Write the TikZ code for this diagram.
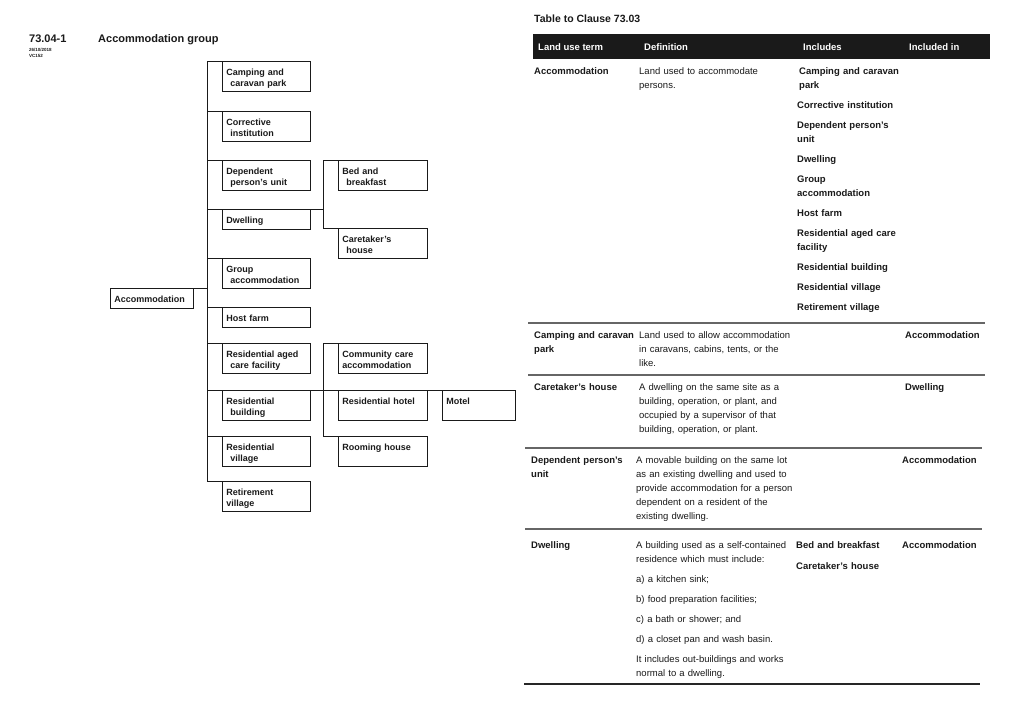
\documentclass[tikz,border=0pt]{standalone}
\usepackage{fontspec}
\setmainfont{Liberation Sans}
\usetikzlibrary{shadows}
\definecolor{ink}{HTML}{1A1A1A}
\tikzset{
  box/.style={draw=ink, line width=0.9pt, fill=white, anchor=north west,
    inner xsep=4pt, inner ysep=0pt, align=left, text=ink,
    font=\fontsize{9}{11}\selectfont\bfseries,
    text height=14pt, text depth=16pt,
    drop shadow={shadow xshift=0.9pt, shadow yshift=-0.9pt, fill=black!50, opacity=0.6}},
  lbox/.style={box, text width=80pt},
  rbox/.style={box, text width=81pt},
  short/.style={text depth=6pt},
  conn/.style={draw=ink, line width=1pt},
  cell/.style={anchor=base west, inner sep=0pt, text width=200pt, align=left, text=ink,
    font=\fontsize{9.5}{14}\selectfont},
  bcell/.style={cell, font=\fontsize{9.5}{14}\selectfont\bfseries},
  hcell/.style={anchor=base west, inner sep=0pt, text=white, font=\fontsize{9.5}{12}\selectfont\bfseries},
  rule/.style={draw=black!60, line width=1.4pt},
}
\begin{document}
\begin{tikzpicture}[x=1pt,y=-1pt]
\useasboundingbox[fill=white] (0,0) rectangle (1024,702);

% ---------- left heading ----------
\node[anchor=base west, inner sep=0pt, text=ink, font=\fontsize{11}{13}\selectfont\bfseries] (num) at (29,42) {73.04-1};
\node[anchor=base west, inner sep=0pt, text=ink, font=\fontsize{11}{13}\selectfont\bfseries] (grp) at (98,42) {Accommodation group};
\node[anchor=base west, inner sep=0pt, text=ink, font=\fontsize{4.5}{6}\selectfont\bfseries] (date) at (29,51) {26/10/2018};
\node[anchor=base west, inner sep=0pt, text=ink, font=\fontsize{4.5}{6}\selectfont\bfseries] (vc) at (29,57) {VC152};

% ---------- tree ----------
\coordinate (t1) at (207,0);
\coordinate (t2) at (323,0);

\node[box, text width=75pt, short] (acc) at (110,288) {Accommodation};

\node[lbox] (camp) at (222,61) {Camping and\\\hspace*{4pt}caravan park};
\node[lbox] (corr) at (222,111) {Corrective\\\hspace*{4pt}institution};
\node[lbox] (dep) at (222,160) {Dependent\\\hspace*{4pt}person's unit};
\node[lbox, short] (dwel) at (222,209) {Dwelling};
\node[lbox] (grpa) at (222,258) {Group\\\hspace*{4pt}accommodation};
\node[lbox, short] (host) at (222,307) {Host farm};
\node[lbox] (aged) at (222,343) {Residential aged\\\hspace*{4pt}care facility};
\node[lbox] (rbld) at (222,390) {Residential\\\hspace*{4pt}building};
\node[lbox] (rvil) at (222,436) {Residential\\\hspace*{4pt}village};
\node[lbox] (ret) at (222,481) {Retirement\\village};

\node[rbox] (bnb) at (338,160) {Bed and\\\hspace*{4pt}breakfast};
\node[rbox] (care) at (338,228) {Caretaker's\\\hspace*{4pt}house};
\node[rbox] (comm) at (338,343) {Community care\\accommodation};
\node[rbox] (rhot) at (338,390) {Residential hotel};
\node[rbox] (room) at (338,436) {Rooming house};
\node[box, text width=65pt] (motel) at (442,390) {Motel};

% connectors
\draw[conn] (acc.north east) -- (acc.north east -| t1);
\draw[conn] (camp.north west -| t1) -- (ret.north west -| t1);
\foreach \b in {camp,corr,dep,dwel,grpa,host,aged,rbld,rvil,ret}
  \draw[conn] (\b.north west -| t1) -- (\b.north west);
\draw[conn] (dwel.north east) -- (dwel.north east -| t2);
\draw[conn] (bnb.north west -| t2) -- (care.north west -| t2);
\draw[conn] (bnb.north west -| t2) -- (bnb.north west);
\draw[conn] (care.north west -| t2) -- (care.north west);
\draw[conn] (rbld.north east) -- (rbld.north east -| t2);
\draw[conn] (comm.north west -| t2) -- (room.north west -| t2);
\foreach \b in {comm,rhot,room}
  \draw[conn] (\b.north west -| t2) -- (\b.north west);
\draw[conn] (rhot.north east) -- (motel.north west);

% ---------- table ----------
\node[anchor=base west, inner sep=0pt, text=ink, font=\fontsize{10.5}{12}\selectfont\bfseries] (ttl) at (534,22) {Table to Clause 73.03};

\node[fill=ink, anchor=north west, inner sep=0pt, minimum width=457pt, minimum height=25pt] (hdr) at (533,34) {};
\node[hcell] (h1) at (538,50.5) {Land use term};
\node[hcell] (h2) at (644,50.5) {Definition};
\node[hcell] (h3) at (803,50.5) {Includes};
\node[hcell] (h4) at (909,50.5) {Included in};

% row 1
\node[bcell] (r1a) at (534,74.5) {Accommodation};
\node[cell] (r1b) at (639,74.5) {Land used to accommodate\\persons.};
\node[bcell] (r1c) at (797,74.5) {\hspace*{2pt}Camping and caravan\\\hspace*{2pt}park\\[6pt]Corrective institution\\[6pt]Dependent person's\\unit\\[6pt]Dwelling\\[6pt]Group\\accommodation\\[6pt]Host farm\\[6pt]Residential aged care\\facility\\[6pt]Residential building\\[6pt]Residential village\\[6pt]Retirement village};
\draw[rule] (528,323) -- (985,323);

% row 2
\node[bcell] (r2a) at (534,338.5) {Camping and caravan\\park};
\node[cell] (r2b) at (639,338.5) {Land used to allow accommodation\\in caravans, cabins, tents, or the\\like.};
\node[bcell] (r2d) at (905,338.5) {Accommodation};
\draw[rule] (528,375) -- (985,375);

% row 3
\node[bcell] (r3a) at (534,390.5) {Caretaker's house};
\node[cell] (r3b) at (639,390.5) {A dwelling on the same site as a\\building, operation, or plant, and\\occupied by a supervisor of that\\building, operation, or plant.};
\node[bcell] (r3d) at (905,390.5) {Dwelling};
\draw[rule] (525,448) -- (982,448);

% row 4
\node[bcell] (r4a) at (531,463.5) {Dependent person's\\unit};
\node[cell] (r4b) at (636,463.5) {A movable building on the same lot\\as an existing dwelling and used to\\provide accommodation for a person\\dependent on a resident of the\\existing dwelling.};
\node[bcell] (r4d) at (902,463.5) {Accommodation};
\draw[rule] (525,529) -- (982,529);

% row 5
\node[bcell] (r5a) at (531,548.5) {Dwelling};
\node[cell] (r5b) at (636,548.5) {A building used as a self-contained\\residence which must include:\\[6pt]a) a kitchen sink;\\[6pt]b) food preparation facilities;\\[6pt]c) a bath or shower; and\\[6pt]d) a closet pan and wash basin.\\[6pt]It includes out-buildings and works\\normal to a dwelling.};
\node[bcell] (r5c) at (796,548.5) {Bed and breakfast\\[7pt]Caretaker's house};
\node[bcell] (r5d) at (902,548.5) {Accommodation};
\draw[draw=black!85, line width=2pt] (524,684) -- (980,684);
\end{tikzpicture}
\end{document}
